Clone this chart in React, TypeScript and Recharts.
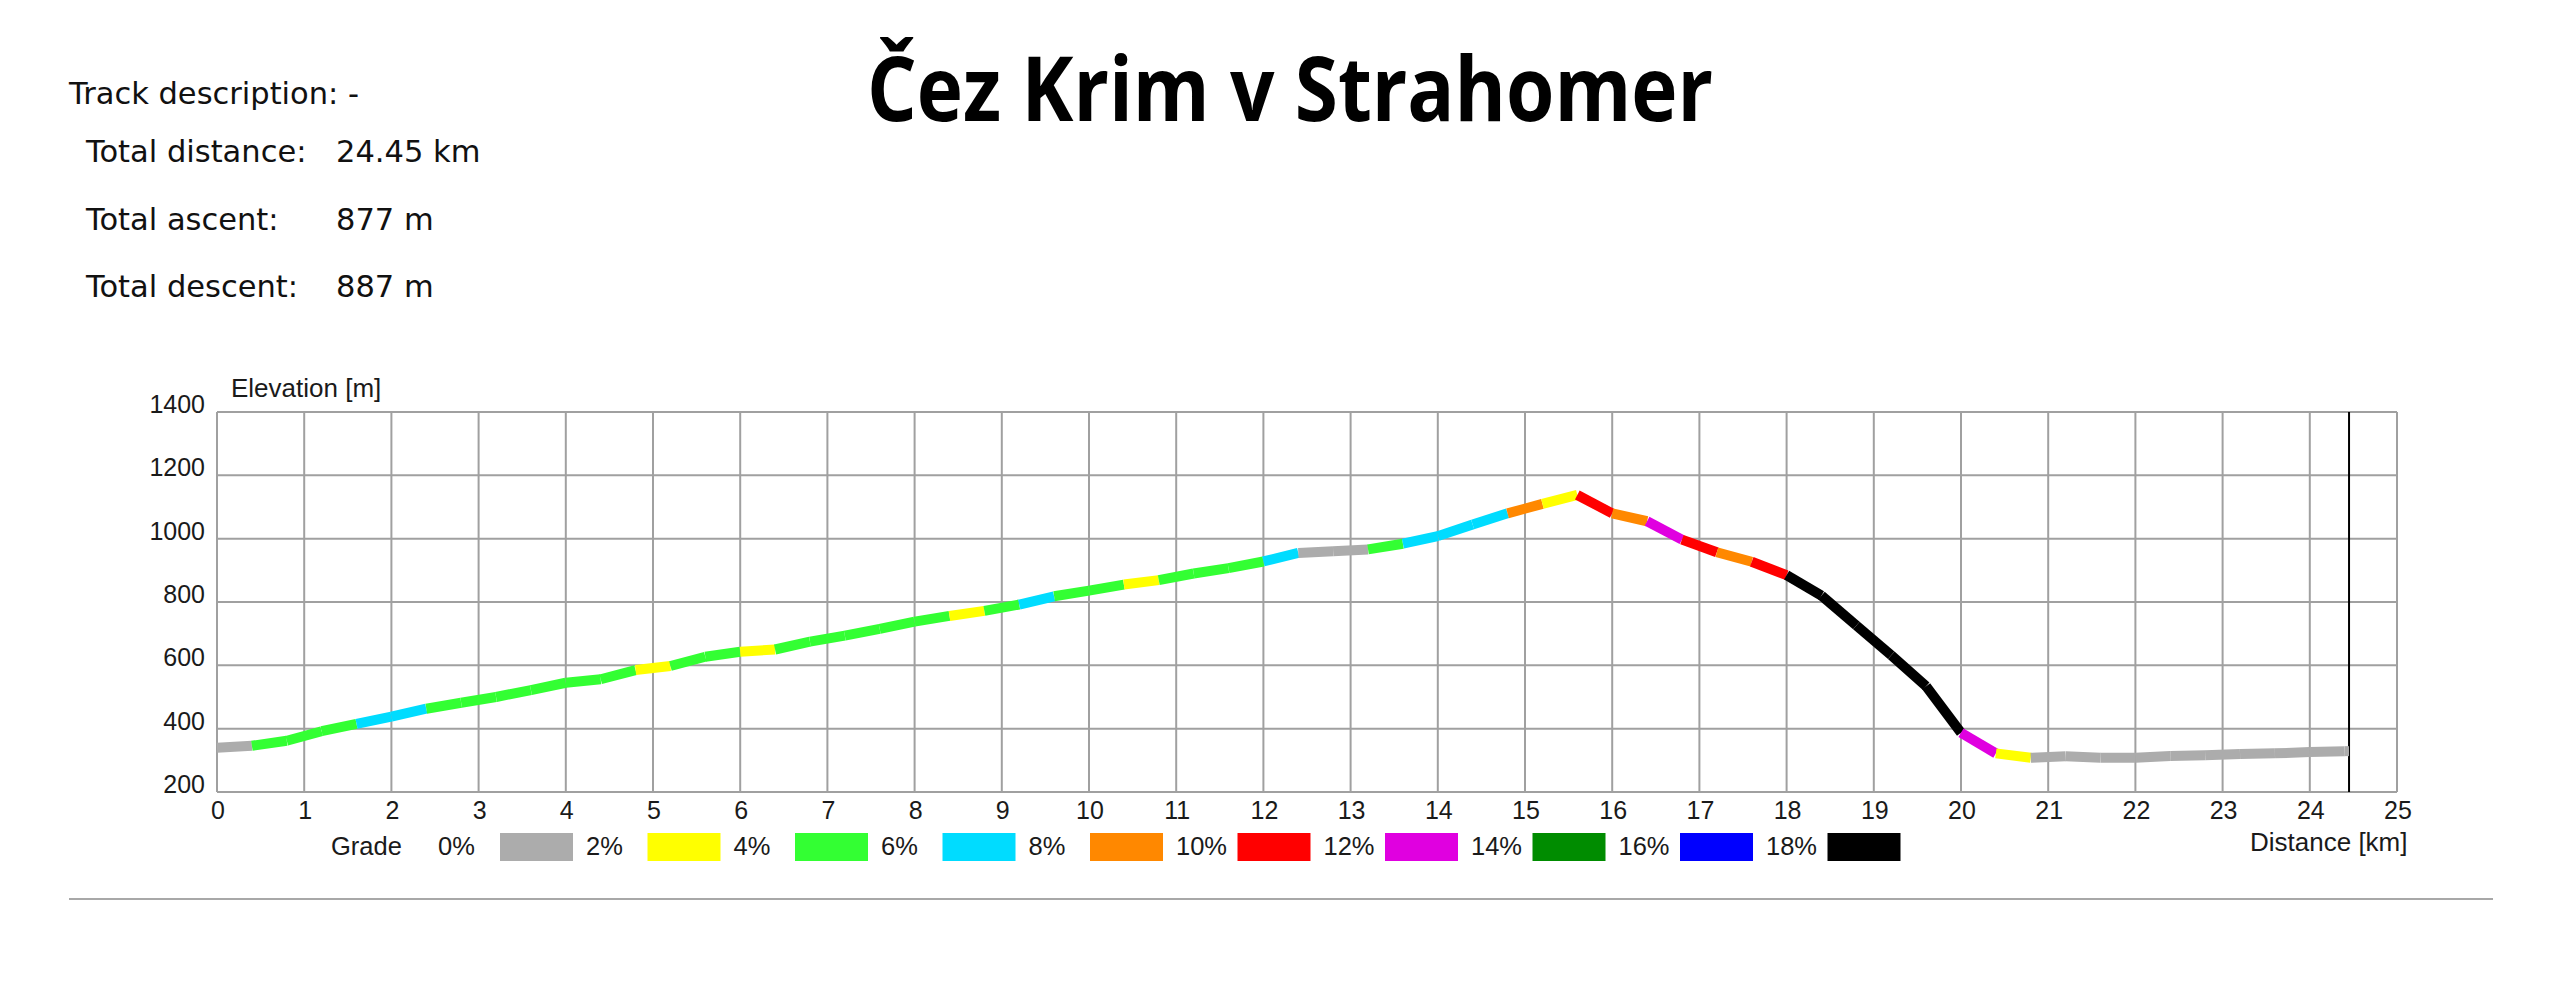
import React from 'react';
import { LineChart, Line, XAxis, YAxis, CartesianGrid, ReferenceLine } from 'recharts';

const DIST_KM = [
  0, 0.4, 0.8, 1.2, 1.6, 2.0, 2.4, 2.8, 3.2, 3.6, 4.0, 4.4, 4.8, 5.2, 5.6, 6.0,
  6.4, 6.8, 7.2, 7.6, 8.0, 8.4, 8.8, 9.2, 9.6, 10.0, 10.4, 10.8, 11.2, 11.6, 12.0,
  12.4, 12.8, 13.2, 13.6, 14.0, 14.4, 14.8, 15.2, 15.6, 16.0, 16.4, 16.8, 17.2,
  17.6, 18.0, 18.4, 18.8, 19.2, 19.6, 20.0, 20.4, 20.8, 21.2, 21.6, 22.0, 22.4,
  22.8, 23.2, 23.6, 24.0, 24.4, 24.45,
];

const ELEV_M = [
  340, 346, 362, 392, 415, 438, 463, 482, 500, 522, 545, 556, 585, 598, 627, 643,
  650, 675, 694, 715, 738, 756, 772, 792, 818, 836, 855, 869, 890, 907, 928,
  955, 960, 966, 984, 1008, 1045, 1080, 1110, 1138, 1080, 1055, 997, 957,
  927, 885, 820, 726, 632, 534, 387, 322, 308, 313, 308, 308, 314,
  316, 320, 322, 326, 329, 329,
];

// grade class of each segment between two consecutive points (index into GRADE_COLORS)
const SEG_GRADE = [
  0, 2, 2, 2, 3, 3, 2, 2, 2, 2, 2, 2, 1, 2, 2, 1,
  2, 2, 2, 2, 2, 1, 2, 3, 2, 2, 1, 2, 2, 2, 3,
  0, 0, 2, 3, 3, 3, 4, 1, 5, 4, 6, 5, 4,
  5, 9, 9, 9, 9, 9, 6, 1, 0, 0, 0, 0, 0,
  0, 0, 0, 0, 0,
];

const GRADE_LABELS = ['0%', '2%', '4%', '6%', '8%', '10%', '12%', '14%', '16%', '18%'];
const GRADE_COLORS = [
  '#acacac', '#ffff00', '#33ff33', '#00dcff', '#ff8800',
  '#ff0000', '#e000e0', '#008c00', '#0000ff', '#000000',
];

const X_TICKS = [0, 1, 2, 3, 4, 5, 6, 7, 8, 9, 10, 11, 12, 13, 14, 15, 16, 17, 18, 19, 20, 21, 22, 23, 24, 25];
const Y_TICKS = [200, 400, 600, 800, 1000, 1200, 1400];
const TRACK_END_KM = 24.45;

const STATS = [
  ['Total distance:', '24.45 km'],
  ['Total ascent:', '877 m'],
  ['Total descent:', '887 m'],
];

const rows = DIST_KM.map((d, i) => {
  const row: Record<string, number> = { d };
  if (i > 0) row[`s${i - 1}`] = ELEV_M[i];
  if (i < DIST_KM.length - 1) row[`s${i}`] = ELEV_M[i];
  return row;
});

const W = 2560;
const H = 997;
const ARIAL = '"Liberation Sans", Arial, sans-serif';

const YTick = (props: any) => (
  <text x={props.x} y={props.y} dy={1} textAnchor="end" fontSize={25} fontFamily={ARIAL} fill="#1a1a1a">
    {props.payload.value}
  </text>
);

const XTick = (props: any) => (
  <text x={props.x + 1} y={props.y} dy={26.5} textAnchor="middle" fontSize={25} fontFamily={ARIAL} fill="#1a1a1a">
    {props.payload.value}
  </text>
);

export default function App() {
  return (
    <div style={{ position: 'relative', width: W, height: H, background: '#fff', overflow: 'hidden' }}>
      <style>{'body{margin:0;background:#fff}'}</style>

      <div style={{ position: 'absolute', left: 0, top: 0 }}>
        <LineChart width={W} height={H} data={rows} margin={{ top: 412, right: 163, left: 157, bottom: 165 }}>
          <CartesianGrid stroke="#a0a0a0" strokeWidth={2} />
          <XAxis
            dataKey="d"
            type="number"
            domain={[0, 25]}
            ticks={X_TICKS}
            interval={0}
            axisLine={false}
            tickLine={false}
            tickSize={0}
            tickMargin={0}
            height={40}
            tick={<XTick />}
          />
          <YAxis
            type="number"
            domain={[200, 1400]}
            ticks={Y_TICKS}
            interval={0}
            axisLine={false}
            tickLine={false}
            tickSize={0}
            tickMargin={12}
            width={60}
            tick={<YTick />}
          />
          <ReferenceLine x={TRACK_END_KM} stroke="#000" strokeWidth={2} />
          {SEG_GRADE.map((g, k) => (
            <Line
              key={k}
              type="linear"
              dataKey={`s${k}`}
              stroke={GRADE_COLORS[g]}
              strokeWidth={10}
              strokeLinecap="butt"
              dot={false}
              activeDot={false}
              connectNulls={false}
              isAnimationActive={false}
            />
          ))}
        </LineChart>
      </div>

      <svg width={W} height={H} style={{ position: 'absolute', left: 0, top: 0, pointerEvents: 'none' }}>
        <text
          x={867}
          y={121}
          fontFamily='"Open Sans", sans-serif'
          fontWeight={700}
          fontSize={90}
          textLength={846}
          lengthAdjust="spacingAndGlyphs"
          fill="#000"
        >
          Čez Krim v Strahomer
        </text>

        <text x={69} y={104} fontFamily='"DejaVu Sans", sans-serif' fontSize={30.5} fill="#111">
          Track description: -
        </text>
        {STATS.map(([k, v], i) => (
          <g key={k} fontFamily='"DejaVu Sans", sans-serif' fontSize={30.5} fill="#111">
            <text x={86} y={162 + i * 67.7}>{k}</text>
            <text x={336} y={162 + i * 67.7}>{v}</text>
          </g>
        ))}

        <text x={231} y={397} fontFamily={ARIAL} fontSize={26} fill="#1a1a1a">Elevation [m]</text>
        <text x={2250} y={851} fontFamily={ARIAL} fontSize={26} fill="#1a1a1a">Distance [km]</text>

        <g fontFamily={ARIAL} fontSize={25.5} fill="#1a1a1a">
          <text x={331} y={855}>Grade</text>
          {GRADE_LABELS.map((lab, i) => (
            <text key={lab} x={i === 0 ? 438 : 586 + 147.5 * (i - 1)} y={855}>{lab}</text>
          ))}
        </g>
        {GRADE_COLORS.map((c, i) => (
          <rect key={c} x={500 + 147.5 * i} y={833} width={73} height={28} fill={c} />
        ))}

        <rect x={69} y={898} width={2424} height={2} fill="#a8a8a8" />
      </svg>
    </div>
  );
}
